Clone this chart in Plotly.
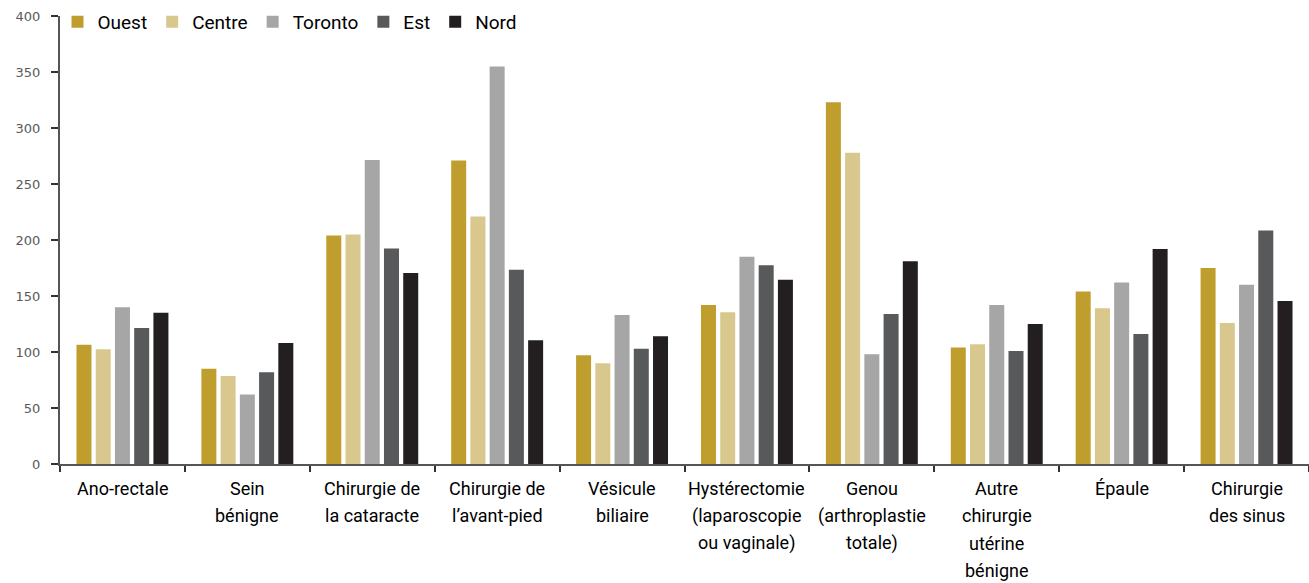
import plotly.graph_objects as go

categories = [
    "Ano-rectale",
    "Sein<br>bénigne",
    "Chirurgie de<br>la cataracte",
    "Chirurgie de<br>l’avant-pied",
    "Vésicule<br>biliaire",
    "Hystérectomie<br>(laparoscopie<br>ou vaginale)",
    "Genou<br>(arthroplastie<br>totale)",
    "Autre<br>chirurgie<br>utérine<br>bénigne",
    "Épaule",
    "Chirurgie<br>des sinus",
]

ouest = [106.5, 85, 204, 271, 97, 142, 323, 104, 154, 175]
centre = [102.5, 78.5, 205, 221, 90, 135.5, 278, 107, 139, 126]
toronto = [140, 62, 271.5, 355, 133, 185, 98, 142, 162, 160]
est = [121.5, 82, 192.5, 173.5, 103, 177.5, 134, 101, 116, 208.5]
nord = [135, 108, 170.5, 110.5, 114, 164.5, 181, 125, 192, 145.5]

series_names = ["Ouest", "Centre", "Toronto", "Est", "Nord"]
series_values = [ouest, centre, toronto, est, nord]
series_colors = ["#BF9E2E", "#D8C88E", "#A6A6A6", "#58595B", "#231F20"]

tick_vals = [0, 50, 100, 150, 200, 250, 300, 350, 400]

LABEL_FONT = "Roboto, Lato, sans-serif"
PLOT_H = 583 - 16 - 119  # plot area height in px

fig = go.Figure()
for name, vals, col in zip(series_names, series_values, series_colors):
    fig.add_trace(go.Bar(
        name=name, x=categories, y=vals,
        marker=dict(color=col, line=dict(width=0)),
    ))

# category labels: one annotation per line for reference-like line spacing
first_line_px = 24
line_step_px = 27.5
for cat in categories:
    for i, line in enumerate(cat.split("<br>")):
        fig.add_annotation(
            x=cat, xref="x",
            y=-(first_line_px + i * line_step_px) / PLOT_H, yref="paper",
            text=line, showarrow=False,
            xanchor="center", yanchor="middle",
            font=dict(family=LABEL_FONT, size=18, color="#000000"),
        )

fig.update_layout(
    width=1309, height=583,
    margin=dict(l=60, r=0, t=16, b=119, autoexpand=False),
    barmode="group",
    bargap=0.23,
    bargroupgap=0.22,
    plot_bgcolor="white",
    paper_bgcolor="white",
    font=dict(family=LABEL_FONT, color="#000000", size=18),
    legend=dict(
        orientation="h", x=-0.002, xanchor="left", y=0.987, yanchor="middle",
        font=dict(family=LABEL_FONT, size=19, color="#000000"),
        itemwidth=30, traceorder="normal",
        bgcolor="rgba(0,0,0,0)",
    ),
    showlegend=True,
)

fig.update_xaxes(
    type="category",
    showticklabels=False,
    showline=True, linecolor="#555555", linewidth=2,
    ticks="outside", tickson="boundaries", ticklen=6, tickwidth=1.5, tickcolor="#333333",
    showgrid=False, zeroline=False,
)
fig.update_yaxes(
    range=[0, 400],
    tickvals=tick_vals,
    showline=True, linecolor="#555555", linewidth=2,
    ticks="outside", ticklen=7, tickwidth=1.5, tickcolor="#333333",
    tickfont=dict(family="DejaVu Sans, Verdana, sans-serif", size=13, color="#595959"),
    ticklabelstandoff=8,
    showgrid=False, zeroline=False,
)

fig.write_html("out.html")
